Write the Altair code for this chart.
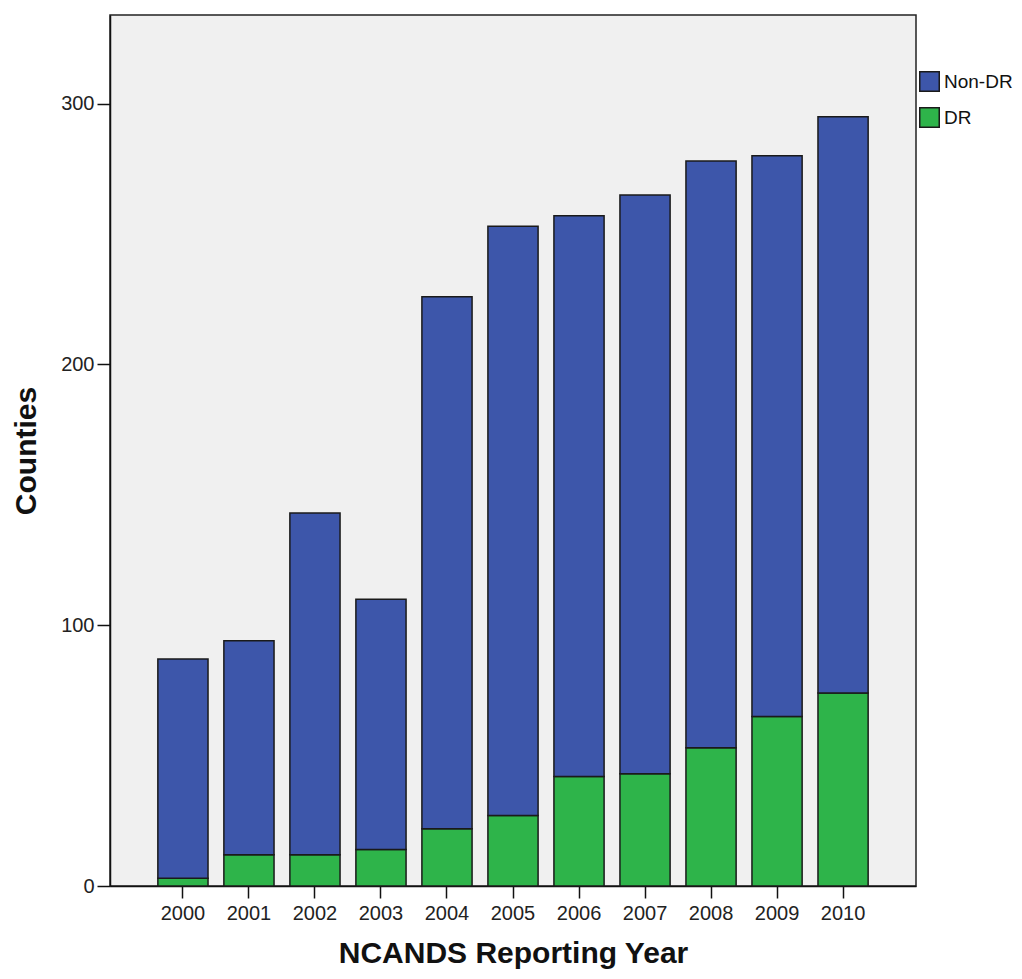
import altair as alt
import pandas as pd

years = ["2000", "2001", "2002", "2003", "2004", "2005", "2006", "2007", "2008", "2009", "2010"]
dr = [3, 12, 12, 14, 22, 27, 42, 43, 53, 65, 74]
non_dr = [84, 82, 131, 96, 204, 226, 215, 222, 225, 215, 221]
groups = ["Non-DR", "DR"]
colors = ["#3D56AA", "#2EB44A"]

rows = []
for y, d, n in zip(years, dr, non_dr):
    rows.append({"year": y, "group": "DR", "count": d, "ord": 0})
    rows.append({"year": y, "group": "Non-DR", "count": n, "ord": 1})
df = pd.DataFrame(rows)

FONT = "Liberation Sans"

chart = alt.Chart(df).mark_bar(stroke="#1a1a1a", strokeWidth=1.5).encode(
    x=alt.X("year:N", sort=years,
            scale=alt.Scale(paddingInner=0.24, paddingOuter=0.725),
            axis=alt.Axis(title="NCANDS Reporting Year", labelAngle=0, tickSize=12,
                          labelPadding=5, titlePadding=15)),
    y=alt.Y("count:Q", stack="zero",
            scale=alt.Scale(domain=[0, 334], nice=False),
            axis=alt.Axis(title="Counties", values=[0, 100, 200, 300], tickSize=13,
                          labelPadding=3, titlePadding=19, grid=False)),
    color=alt.Color("group:N", scale=alt.Scale(domain=groups, range=colors),
                    legend=alt.Legend(title=None, orient="none", legendX=809, legendY=56,
                                      symbolType="square", symbolSize=380,
                                      symbolStrokeColor="#1a1a1a", symbolStrokeWidth=1.5,
                                      labelFontSize=19, labelColor="#111", labelFont=FONT,
                                      rowPadding=9, labelOffset=4)),
    order=alt.Order("ord:Q", sort="ascending"),
).properties(
    width=806, height=871,
    autosize=alt.AutoSizeParams(type="none"),
    padding={"left": 102, "top": 7, "right": 98, "bottom": 84},
).configure_view(
    fill="#F0F0F0", stroke="#222", strokeWidth=1.5
).configure_axis(
    domainColor="#111", domainWidth=1.5, tickColor="#111", tickWidth=1.5,
    labelFont=FONT, labelFontSize=20, labelColor="#222",
    titleFont=FONT, titleFontSize=30, titleFontWeight="bold", titleColor="#111"
)

chart.save("out.html", embed_options={"renderer": "svg", "actions": False})
